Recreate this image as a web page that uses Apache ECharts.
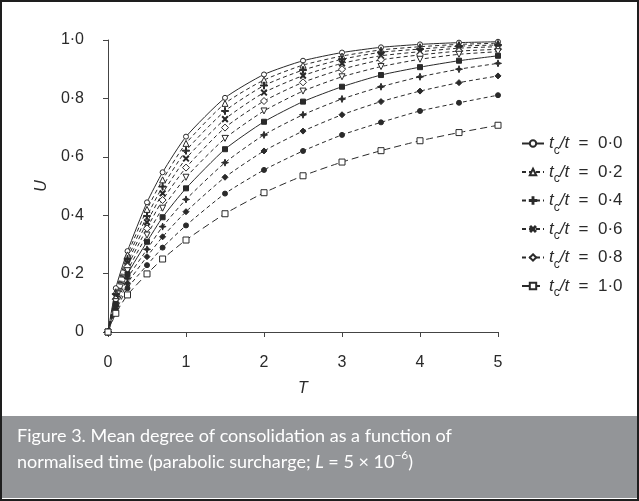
<!DOCTYPE html>
<html><head><meta charset="utf-8">
<script src="https://cdn.jsdelivr.net/npm/echarts@6/dist/echarts.min.js"></script>
<style>html,body{margin:0;padding:0;background:#fff}#c{width:639px;height:501px}</style>
</head><body><div id="c"></div>
<script>
const T = [0, 0.1, 0.25, 0.5, 0.7, 1, 1.5, 2, 2.5, 3, 3.5, 4, 4.5, 5];
const yTicks = ['0', '0·2', '0·4', '0·6', '0·8', '1·0'];
const xTicks = ['0', '1', '2', '3', '4', '5'];
const legendNames = ['0·0', '0·2', '0·4', '0·6', '0·8', '1·0'];

const uCircle  = [0, 0.150, 0.277, 0.444, 0.547, 0.669, 0.802, 0.882, 0.929, 0.957, 0.975, 0.985, 0.991, 0.994];
const uTri     = [0, 0.138, 0.264, 0.420, 0.521, 0.646, 0.783, 0.863, 0.914, 0.945, 0.966, 0.977, 0.985, 0.989];
const uPlus    = [0, 0.130, 0.250, 0.397, 0.498, 0.621, 0.757, 0.844, 0.897, 0.934, 0.958, 0.969, 0.979, 0.983];
const uCross   = [0, 0.121, 0.237, 0.376, 0.475, 0.594, 0.729, 0.820, 0.878, 0.920, 0.946, 0.960, 0.972, 0.977];
const uDiamond = [0, 0.112, 0.224, 0.355, 0.452, 0.563, 0.700, 0.791, 0.855, 0.900, 0.932, 0.949, 0.962, 0.968];
const uDownTri = [0, 0.104, 0.210, 0.332, 0.424, 0.530, 0.663, 0.757, 0.825, 0.874, 0.909, 0.934, 0.951, 0.960];
const uFillSq  = [0, 0.096, 0.198, 0.309, 0.393, 0.492, 0.626, 0.720, 0.789, 0.840, 0.880, 0.907, 0.929, 0.946];
const uStar    = [0, 0.089, 0.184, 0.283, 0.361, 0.454, 0.580, 0.675, 0.744, 0.798, 0.840, 0.874, 0.900, 0.920];
const uFillDia = [0, 0.081, 0.167, 0.258, 0.326, 0.412, 0.530, 0.620, 0.688, 0.744, 0.789, 0.825, 0.854, 0.877];
const uDot     = [0, 0.073, 0.150, 0.229, 0.289, 0.365, 0.474, 0.555, 0.620, 0.675, 0.718, 0.757, 0.785, 0.811];
const uSquare  = [0, 0.064, 0.127, 0.199, 0.250, 0.315, 0.405, 0.477, 0.535, 0.582, 0.621, 0.655, 0.683, 0.708];

const INK = '#2a2a2a';
const PLUS = 'path://M4.3,0 H5.7 V4.3 H10 V5.7 H5.7 V10 H4.3 V5.7 H0 V4.3 H4.3 Z';
const STAR = 'path://M5,0 L6.3,3.7 L10,5 L6.3,6.3 L5,10 L3.7,6.3 L0,5 L3.7,3.7 Z';

function mk(name, data, symbol, opts) {
  opts = opts || {};
  return {
    name: name, type: 'line',
    data: T.map((t, i) => [t, data[i]]),
    symbol: symbol, symbolSize: opts.size || 6, symbolRotate: opts.rot || 0,
    showSymbol: true, smooth: 0.2,
    lineStyle: { color: INK, width: 1, type: opts.solid ? 'solid' : (opts.dash || [4, 3]) },
    itemStyle: { color: opts.fill || '#fff', borderColor: INK, borderWidth: 1 },
    emphasis: { disabled: true },
    z: 2
  };
}

const series = [
  mk('L0', uCircle, 'circle', { solid: true, size: 5 }),
  mk('L1', uTri, 'triangle', { size: 6 }),
  mk('L2', uPlus, PLUS, { fill: INK, size: 7 }),
  mk('L3', uCross, PLUS, { fill: INK, size: 7, rot: 45 }),
  mk('L4', uDiamond, 'diamond', { size: 7 }),
  mk('x5', uDownTri, 'triangle', { rot: 180, size: 6 }),
  mk('x6', uFillSq, 'rect', { solid: true, fill: INK, size: 5 }),
  mk('x7', uStar, STAR, { fill: INK, size: 7 }),
  mk('x8', uFillDia, 'diamond', { fill: INK, size: 6 }),
  mk('x9', uDot, 'circle', { fill: INK, size: 5 }),
  mk('L5', uSquare, 'rect', { size: 6, dash: [7, 4] })
];

const chart = echarts.init(document.getElementById('c'), null, { renderer: 'canvas' });
chart.setOption({
  animation: false,
  backgroundColor: '#fff',
  grid: { left: 108, right: 141, top: 40, bottom: 169, containLabel: false },
  xAxis: {
    type: 'value', min: 0, max: 5, interval: 1, offset: 11,
    name: 'T', nameLocation: 'middle', nameGap: 38,
    nameTextStyle: { fontFamily: 'Liberation Sans', fontStyle: 'italic', fontSize: 16, color: INK },
    axisLine: { show: true, lineStyle: { color: '#444', width: 1 } },
    axisTick: { show: true, length: 5, lineStyle: { color: '#444' } },
    axisLabel: { fontFamily: 'Liberation Sans', fontSize: 16, color: INK, margin: 12,
      formatter: v => xTicks[Math.round(v)] },
    splitLine: { show: false }
  },
  yAxis: {
    type: 'value', min: 0, max: 1, interval: 0.2, offset: 16,
    name: 'U', nameLocation: 'middle', nameGap: 37, nameRotate: 90,
    nameTextStyle: { fontFamily: 'Liberation Sans', fontStyle: 'italic', fontSize: 16, color: INK },
    axisLine: { show: true, lineStyle: { color: '#444', width: 1 } },
    axisTick: { show: true, length: 5, lineStyle: { color: '#444' } },
    axisLabel: { fontFamily: 'Liberation Sans', fontSize: 16, color: INK, margin: 8,
      formatter: v => yTicks[Math.round(v * 5)] },
    splitLine: { show: false }
  },
  legend: {
    data: ['L0', 'L1', 'L2', 'L3', 'L4', 'L5'],
    orient: 'vertical', left: 516, top: 130, itemWidth: 22, itemHeight: 8, itemGap: 7,
    selectedMode: false,
    formatter: n => '{i|t}{s|c}{i|/t}{n|  =  ' + legendNames[Number(n.slice(1))] + '}',
    textStyle: {
      color: INK, fontFamily: 'Liberation Sans', fontSize: 17,
      rich: {
        i: { fontFamily: 'Liberation Sans', fontStyle: 'italic', fontSize: 17, color: INK, lineHeight: 20, verticalAlign: 'middle' },
        s: { fontFamily: 'Liberation Sans', fontSize: 12, color: INK, lineHeight: 20, verticalAlign: 'bottom', padding: [0, 0, -3, 0] },
        n: { fontFamily: 'Liberation Sans', fontSize: 17, color: INK, lineHeight: 20, verticalAlign: 'middle' }
      }
    }
  },
  series: series,
  graphic: [
    { type: 'rect', shape: { x: 1, y: 1, width: 637, height: 499 }, style: { fill: 'none', stroke: '#1e1e1e', lineWidth: 2 }, z: 10 },
    { type: 'rect', shape: { x: 2, y: 416, width: 635, height: 82 }, style: { fill: '#939598' }, z: 5 },
    { type: 'text', left: 17, top: 427, z: 6,
      style: {
        text: '{n|Figure 3. Mean degree of consolidation as a function of}\n{n|normalised time (parabolic surcharge; }{it|L}{n| = 5 × 10}{sup|−6}{n|)}',
        fill: '#fff',
        rich: {
          n: { fontFamily: 'Lato', fontSize: 18, fill: '#fff', lineHeight: 26 },
          it: { fontFamily: 'Lato', fontStyle: 'italic', fontSize: 18, fill: '#fff', lineHeight: 26 },
          sup: { fontFamily: 'Lato', fontSize: 12, fill: '#fff', lineHeight: 26, verticalAlign: 'top' }
        }
      }
    }
  ]
});
</script></body></html>
